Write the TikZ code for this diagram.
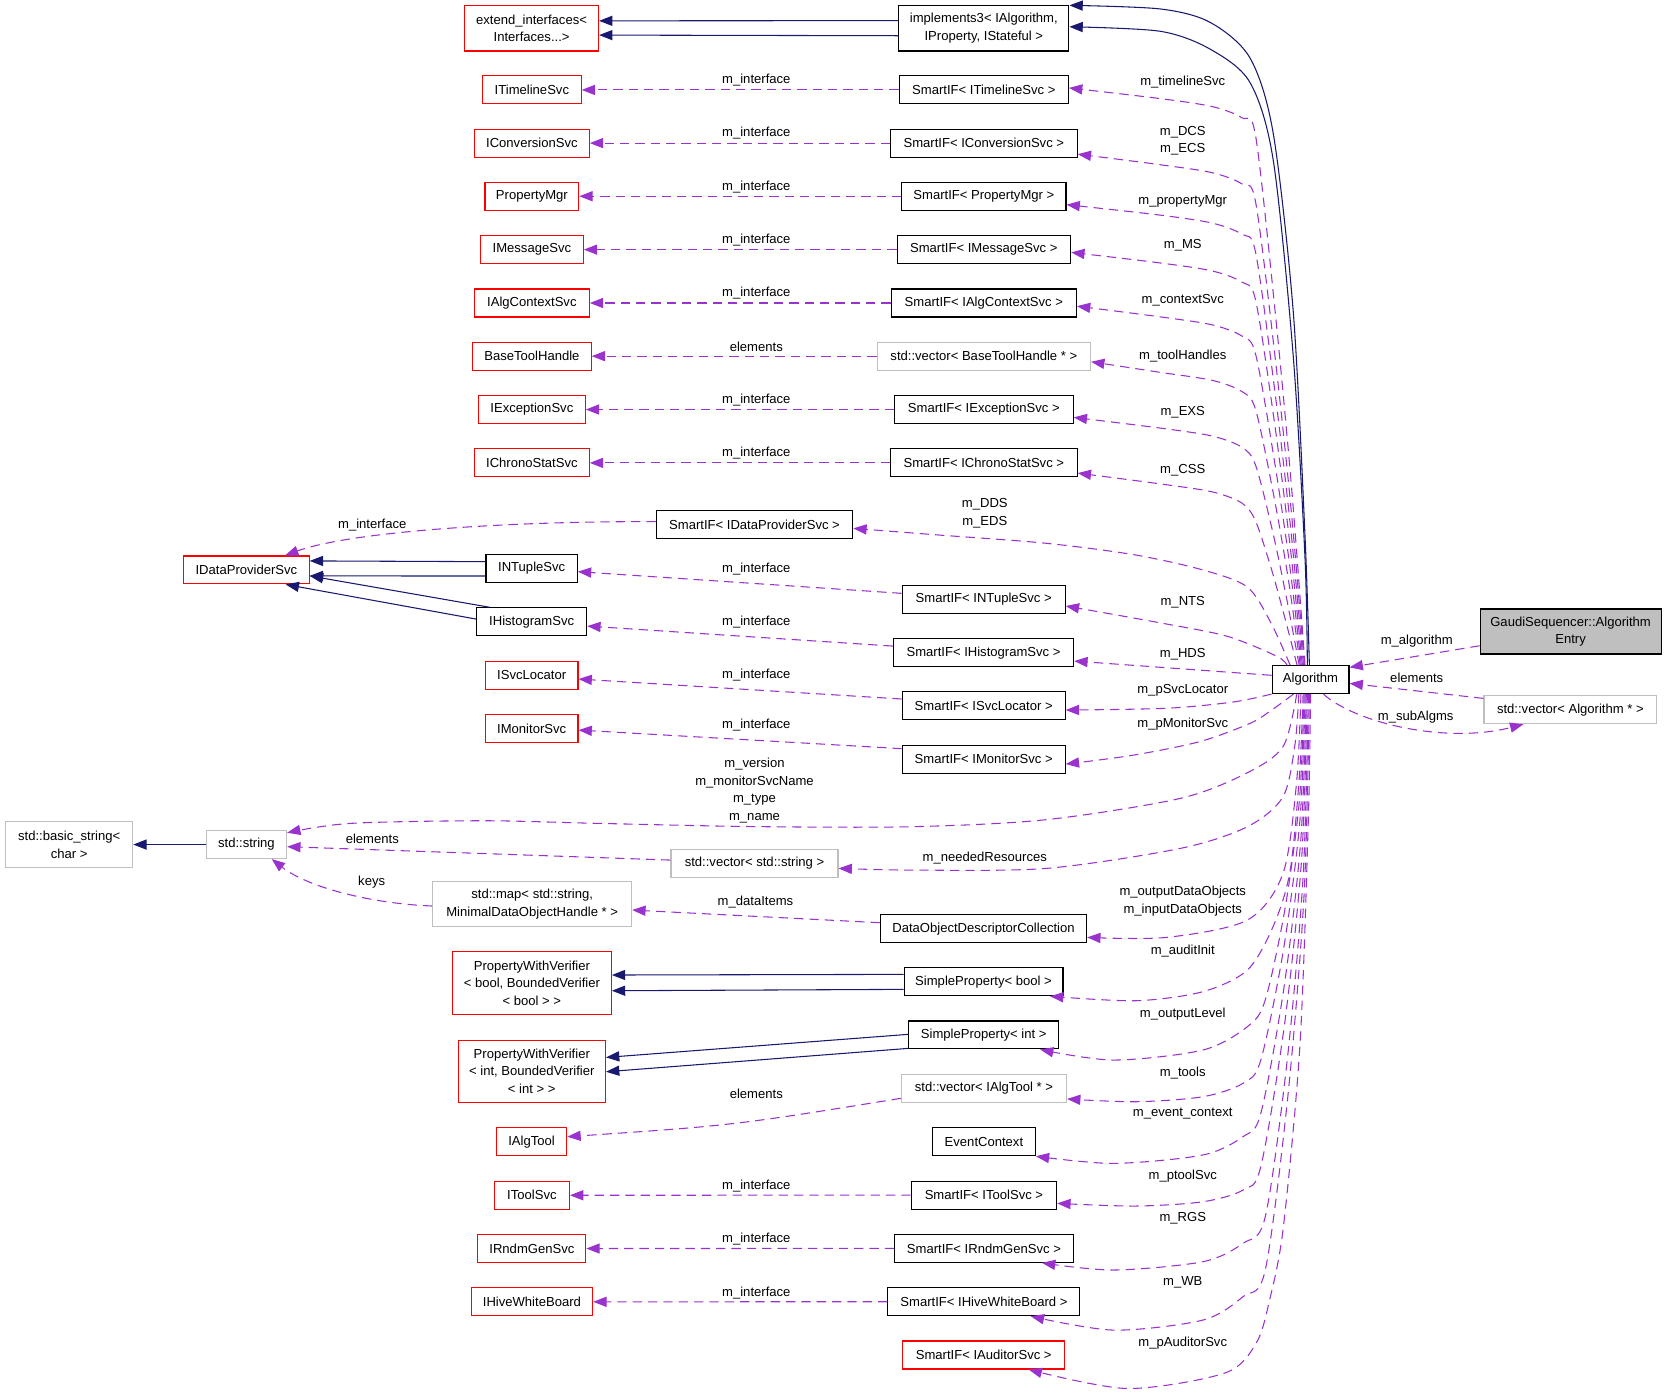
\documentclass[tikz,border=0pt]{standalone}
\usepackage{fontspec}
\setmainfont{Liberation Sans}
\usetikzlibrary{arrows.meta,calc}
\definecolor{inhblue}{HTML}{191970}
\definecolor{usepurple}{HTML}{9A32CD}
\definecolor{undocred}{HTML}{FF0000}
\definecolor{extgray}{HTML}{BFBFBF}

\begin{document}
\begin{tikzpicture}[x=0.7973pt,y=-0.7973pt,
    every node/.style={font=\fontsize{9.8}{13.2}\selectfont},
    clsbox/.style={draw=black,line width=0.8pt,inner sep=0pt,align=center,minimum height=20.97pt},
    redbox/.style={clsbox,draw=undocred},
    graybox/.style={clsbox,draw=extgray},
    focusbox/.style={clsbox,fill=extgray},
    boxw/.style={minimum width=#1*0.7973pt},
    boxh/.style={minimum height=#1*0.7973pt},
    inh/.style={inhblue,line width=0.8pt,-{Triangle[length=10pt,width=7.6pt]}},
    usage/.style={usepurple,line width=0.8pt,dash pattern=on 7pt off 4.5pt,-{Triangle[length=10pt,width=7.6pt]}},
    elabel/.style={inner sep=0pt,align=center}]
\useasboundingbox (0,0) rectangle (1568,1311);

% Klassen oben
\node[redbox,boxw=126,boxh=42.7] (ext) at (500,26.6) {extend\_interfaces<\\Interfaces...>};
\node[clsbox,boxw=160,boxh=42.7] (impl) at (925.4,26.6) {implements3< IAlgorithm,\\IProperty, IStateful >};

% linke Spalte
\node[redbox,boxw=92.8] (itl) at (500.3,84.6) {ITimelineSvc};
\node[redbox,boxw=108] (icv) at (500.3,134.6) {IConversionSvc};
\node[redbox,boxw=88.2] (pmg) at (500.3,184.6) {PropertyMgr};
\node[redbox,boxw=96.8] (ims) at (500.3,234.8) {IMessageSvc};
\node[redbox,boxw=108] (iac) at (500.3,285) {IAlgContextSvc};
\node[redbox,boxw=111.6] (bth) at (500.3,335) {BaseToolHandle};
\node[redbox,boxw=100.5] (iex) at (500.3,385.2) {IExceptionSvc};
\node[redbox,boxw=108] (ics) at (500.3,435.4) {IChronoStatSvc};

% mittlere Spalte
\node[clsbox,boxw=159.2] (stl) at (925.4,84.6) {SmartIF< ITimelineSvc >};
\node[clsbox,boxw=175.6] (scv) at (925.4,134.6) {SmartIF< IConversionSvc >};
\node[clsbox,boxw=154.5] (spm) at (925.4,184.6) {SmartIF< PropertyMgr >};
\node[clsbox,boxw=163.3] (sms) at (925.4,234.8) {SmartIF< IMessageSvc >};
\node[clsbox,boxw=174.2] (sac) at (925.4,285) {SmartIF< IAlgContextSvc >};
\node[graybox,boxw=200.8] (vbt) at (925.4,335) {std::vector< BaseToolHandle * >};
\node[clsbox,boxw=168] (sex) at (925.4,385.2) {SmartIF< IExceptionSvc >};
\node[clsbox,boxw=175.6] (scs) at (925.4,435.4) {SmartIF< IChronoStatSvc >};

% Datendienste
\node[clsbox,boxw=184.8] (sdp) at (709.7,493.5) {SmartIF< IDataProviderSvc >};
\node[redbox,boxw=118.1] (idp) at (231.8,536.1) {IDataProviderSvc};
\node[clsbox,boxw=85.9] (ints) at (500.1,534.5) {INTupleSvc};
\node[clsbox,boxw=103.5] (ihs) at (500.1,584.8) {IHistogramSvc};
\node[redbox,boxw=87.1] (isl) at (500.1,635.1) {ISvcLocator};
\node[redbox,boxw=87.1] (imo) at (500.1,685.3) {IMonitorSvc};
\node[clsbox,boxw=153.3] (snt) at (925.3,563.8) {SmartIF< INTupleSvc >};
\node[clsbox,boxw=169.7] (shs) at (925.1,614) {SmartIF< IHistogramSvc >};
\node[clsbox,boxw=153.3] (ssl) at (925.3,663.8) {SmartIF< ISvcLocator >};
\node[clsbox,boxw=153.3] (smo) at (925.3,714) {SmartIF< IMonitorSvc >};

% Algorithm und rechts
\node[clsbox,boxw=72.4] (alg) at (1232.7,639.2) {Algorithm};
\node[focusbox,boxw=170.2,boxh=42.3] (gsa) at (1477.3,594) {GaudiSequencer::Algorithm\\Entry};
\node[graybox,boxw=162.5] (val) at (1477.1,667.6) {std::vector< Algorithm * >};

% Strings
\node[graybox,boxw=119.5,boxh=42.9] (bst) at (65.1,794.4) {std::basic\_string<\\char >};
\node[graybox,boxw=75.6] (str) at (231.8,794.4) {std::string};
\node[graybox,boxw=157.1] (vst) at (709.7,812) {std::vector< std::string >};
\node[graybox,boxw=187.2,boxh=42.3] (map) at (500.6,850.5) {std::map< std::string,\\MinimalDataObjectHandle * >};
\node[clsbox,boxw=194] (doc) at (925.1,873.5) {DataObjectDescriptorCollection};

% unten
\node[redbox,boxw=149.5,boxh=58.9] (pwb) at (500.3,924.7) {PropertyWithVerifier\\< bool, BoundedVerifier\\< bool > >};
\node[redbox,boxw=138.6,boxh=58.6] (pwi) at (500.2,1007.6) {PropertyWithVerifier\\< int, BoundedVerifier\\< int > >};
\node[clsbox,boxw=149.5] (spb) at (925.1,923.4) {SimpleProperty< bool >};
\node[clsbox,boxw=140.8] (spi) at (925.3,973.5) {SimpleProperty< int >};
\node[graybox,boxw=155.4] (vat) at (925.5,1023.7) {std::vector< IAlgTool * >};
\node[redbox,boxw=66.3] (iat) at (500,1074) {IAlgTool};
\node[clsbox,boxw=96.6] (evc) at (925.5,1073.9) {EventContext};
\node[redbox,boxw=70.6] (its) at (500.3,1124.3) {IToolSvc};
\node[clsbox,boxw=136.9] (sts) at (925.5,1124.1) {SmartIF< IToolSvc >};
\node[redbox,boxw=101.5] (irg) at (500.3,1174.4) {IRndmGenSvc};
\node[clsbox,boxw=168] (srg) at (925.5,1174.2) {SmartIF< IRndmGenSvc >};
\node[redbox,boxw=114.4] (ihw) at (500.3,1224.5) {IHiveWhiteBoard};
\node[clsbox,boxw=180.6] (shw) at (925.5,1224.4) {SmartIF< IHiveWhiteBoard >};
\node[redbox,boxw=152.4] (sau) at (925.3,1274.5) {SmartIF< IAuditorSvc >};

% Vererbung
\draw[inh] ($(impl.west)+(0,-7.2)$) -- ($(ext.east)+(0,-7)$);
\draw[inh] ($(impl.west)+(0,7)$) -- ($(ext.east)+(0,6.4)$);
\draw[inh] ($(ints.west)+(0,-6.2)$) -- ($(idp.east)+(0,-8.5)$);
\draw[inh] ($(ints.west)+(0,7.3)$) -- ($(idp.east)+(0,5.6)$);
\draw[inh] ($(ihs.north west)+(12.5,0)$) -- ($(idp.east)+(0,5.6)$);
\draw[inh] ($(ihs.west)+(0,-2.5)$) -- ($(idp.south)+(36.9,0)$);
\draw[inh] (str) -- (bst);
\draw[inh] ($(spb.west)+(0,-6.9)$) -- ($(pwb.east)+(0,-7.6)$);
\draw[inh] ($(spb.west)+(0,7.2)$) -- ($(pwb.east)+(0,7.2)$);
\draw[inh] ($(spi.west)+(0,-0.6)$) -- ($(pwi.east)+(0,-13)$);
\draw[inh] ($(spi.west)+(0,12.6)$) -- ($(pwi.east)+(0,0.5)$);

\coordinate (iu) at ($(alg.north)+(-1.1,0)$);
\coordinate (il) at ($(alg.north)+(-3,0)$);
\coordinate (iut) at ($(impl.north east)+(0,0.3)$);
\coordinate (ilt) at ($(impl.east)+(0,-1.4)$);
\draw[inh] plot[smooth] coordinates {(iu) (1227.5,504) (1216.5,294) (1197.7,126) (1175.8,54.6) (1138.2,21) (1091.2,8.4) (iut)};
\draw[inh] plot[smooth] coordinates {(il) (1227.5,525) (1216.5,335.9) (1197.7,151.2) (1175.8,77.7) (1138.2,46.2) (1091.2,29.4) (ilt)};

% Ankerpunkte am Algorithm
\foreach \n/\dx in {a1/-5.2,a2/-5.8,a3/-6.7,a4/-7.7,a5/-8.7,a6/-9.7,a7/-10.7,a8/-12.7,a9/-19.2,a10/-22.2}
  \coordinate (\n) at ($(alg.north)+(\dx,0)$);
\foreach \n/\dx in {b1/-16,b2/-13,b3/-11,b4/-9,b5/-7,b6/-6,b7/-5,b8/-4,b9/-3,b10/-2,b11/-1,b12/0}
  \coordinate (\n) at ($(alg.south)+(\dx,0)$);
\foreach \n/\m/\dy in {t1/stl/-1.9,t2/scv/10.4,t3/spm/7.9,t4/sms/2.6,t5/sac/3,t6/vbt/5.3,t7/sex/7.4,t8/scs/9.6,t9/sdp/3.5,t10/snt/6.2,t11/shs/7.8,t12/ssl/4.1,t13/smo/4.7,t15/vst/4.8,t16/doc/8.2,t19/vat/10,t21/sts/7.8}
  \coordinate (\n) at ($(\m.east)+(0,\dy)$);
\foreach \n/\m/\dx in {t17/spb/62.6,t18/spi/53,t22/srg/54.6,t23/shw/44.1,t24/sau/42.2}
  \coordinate (\n) at ($(\m.south)+(\dx,0)$);
\coordinate (t14) at ($(str.east)+(0,-11.1)$);

% Verwendung: Algorithm -> Member
\draw[usage] plot[smooth] coordinates {(a1) (1215,460.3) (1199.5,294) (1181,127.7) (1168,110.7) (1140,100.2) (1091,92.7) (t1)};
\draw[usage] plot[smooth] coordinates {(a2) (1214.6,481) (1199.3,335.4) (1181,189.9) (1168,172.9) (1140,162.4) (1091,154.9) (t2)};
\draw[usage] plot[smooth] coordinates {(a3) (1214,496.9) (1199,367) (1181,237.3) (1168,220.3) (1140,209.8) (1091,202.3) (t3)};
\draw[usage] plot[smooth] coordinates {(a4) (1213.3,511.8) (1198.7,397) (1181,282.3) (1168,265.3) (1140,254.8) (1091,247.3) (t4)};
\draw[usage] plot[smooth] coordinates {(a5) (1212.7,528.7) (1198.3,430.8) (1181,333) (1168,316) (1140,305.5) (1091,298) (t5)};
\draw[usage] plot[smooth] coordinates {(a6) (1212,546) (1198,465.6) (1181,385.2) (1168,368.2) (1140,357.7) (1091,350.2) (t6)};
\draw[usage] plot[smooth] coordinates {(a7) (1210.3,563.5) (1197.2,500.6) (1181,437.6) (1168,420.6) (1140,410.1) (1091,402.6) (t7)};
\draw[usage] plot[smooth] coordinates {(a8) (1208.5,581) (1196,535.6) (1181,490.1) (1168,473.1) (1140,462.6) (1091,455.1) (t8)};
\draw[usage] plot[smooth] coordinates {(a9) (1195,585) (1173,552) (1131,536) (1068,522) (984,511) (880,503) (t9)};
\draw[usage] plot[smooth] coordinates {(a10) (1201,617.3) (1154,598.4) (1091,585.8) (t10)};
\draw[usage] ($(alg.west)+(0,-4)$) -- (t11);
\draw[usage] plot[smooth] coordinates {(alg.south west) (1160,660.3) (1097.4,666.2) (t12)};
\draw[usage] plot[smooth] coordinates {(b1) (1196,668) (1175.8,680.4) (1128.8,697.5) (1066,710.3) (t13)};
\draw[usage] plot[smooth] coordinates {(b2) (1207,702) (1173,727) (1110,751) (984,771) (858,777.6) (710,777.5) (564,774.5) (454.6,772) (329.2,774.5) (t14)};
\draw[usage] plot[smooth] coordinates {(b3) (1218,700.7) (1206.8,749.4) (1173.3,777.6) (1110.3,798) (984.3,816.8) (858.3,818.4) (t15)};
\draw[usage] plot[smooth] coordinates {(b4) (1219.5,736.8) (1206.8,821.5) (1173.3,865.4) (1097.4,881.7) (t16)};
\draw[usage] plot[smooth] coordinates {(b5) (1222.3,728.7) (1213.4,819.6) (1197.7,871) (1173.3,912.4) (1131.3,932.8) (1068.3,941.3) (t17)};
\draw[usage] plot[smooth] coordinates {(b6) (1222.2,753) (1208.8,854) (1190.1,940.6) (1173.3,965.7) (1131.3,987.7) (1047.3,997.1) (t18)};
\draw[usage] plot[smooth] coordinates {(b7) (1222.6,772.8) (1207.2,893.5) (1185.9,997.1) (1169.1,1019) (1131.3,1031.6) (1068.3,1036.3) (t19)};
\draw[usage] plot[smooth] coordinates {(b8) (1223.5,790.5) (1207.7,928.9) (1185.9,1047.3) (1169.1,1069.2) (1131.3,1086.4) (1047.3,1094.3) (evc.south east)};
\draw[usage] plot[smooth] coordinates {(b9) (1224.3,808) (1208.2,963.8) (1185.9,1097.4) (1169.1,1119.4) (1131.3,1130.4) (1068.3,1134.4) (t21)};
\draw[usage] plot[smooth] coordinates {(b10) (1225.7,824.4) (1210.8,996.8) (1190.1,1144.5) (1169.1,1169.5) (1131.3,1186.8) (1047.3,1194.6) (t22)};
\draw[usage] plot[smooth] coordinates {(b11) (1226.6,842) (1211.3,1031.8) (1190.1,1194.6) (1169.1,1219.7) (1131.3,1241.7) (1047.3,1251.1) (t23)};
\draw[usage] plot[smooth] coordinates {(b12) (1230.7,768) (1222.8,982) (1207.2,1153.6) (1194.2,1222.8) (1181.5,1263.5) (1152,1291.5) (1060,1306) (t24)};

% Verwendung: Member -> Schnittstellen
\draw[usage] (stl) -- (itl);
\draw[usage] (scv) -- (icv);
\draw[usage] (spm) -- (pmg);
\draw[usage] (sms) -- (ims);
\draw[usage] (sac) -- (iac);
\draw[usage] (vbt) -- (bth);
\draw[usage] (sex) -- (iex);
\draw[usage] (scs) -- (ics);
\draw[usage] ($(sdp.west)+(0,-2.8)$) .. controls (480,490) and (330,500) .. ($(idp.north)+(36.3,0)$);
\draw[usage] ($(snt.west)+(0,-5.7)$) -- ($(ints.east)+(0,3.2)$);
\draw[usage] ($(shs.west)+(0,-6.3)$) -- ($(ihs.east)+(0,4.1)$);
\draw[usage] ($(ssl.west)+(0,-6.3)$) -- ($(isl.east)+(0,3.6)$);
\draw[usage] ($(smo.west)+(0,-9.8)$) -- ($(imo.east)+(0,1.4)$);
\draw[usage] ($(vst.west)+(0,-3)$) -- ($(str.east)+(0,2)$);
\draw[usage] ($(map.west)+(0,1.7)$) .. controls (350,850) and (290,835) .. ($(str.south)+(23.8,0)$);
\draw[usage] ($(doc.west)+(0,-5.6)$) -- ($(map.east)+(0,5.5)$);
\draw[usage] ($(vat.west)+(0,9.4)$) .. controls (690,1058.5) .. ($(iat.east)+(0,-4.8)$);
\draw[usage] (sts) -- (its);
\draw[usage] (srg) -- (irg);
\draw[usage] (shw) -- (ihw);

% rechts
\draw[usage] ($(gsa.west)+(0,13.4)$) -- ($(alg.east)+(0,-11.5)$);
\draw[usage] ($(val.west)+(0,-10.7)$) -- ($(alg.east)+(0,3.6)$);
\draw[usage] ($(alg.south)+(12.1,0)$) .. controls (1275,680) and (1360,700) .. ($(val.south)+(-44.2,0)$);

% Beschriftungen
\foreach \y [count=\i] in {75.6,125.6,175.6,225.8,276,376.2,426.4,534.9,584.8,634.6,681.6,1115.3,1165.2,1215.9}
  \node[elabel] (mi\i) at (711.4,\y) {m\_interface};
\node[elabel] (lel1) at (711.4,326) {elements};
\node[elabel] (lidp) at (350.2,493.8) {m\_interface};
\node[elabel] (lel2) at (350.2,789.2) {elements};
\node[elabel] (lkey) at (349.6,829.3) {keys};
\node[elabel] (ldit) at (710.6,848.2) {m\_dataItems};
\node[elabel] (lel3) at (711.4,1028.4) {elements};
\node[elabel] (lnam) at (709.7,743.6) {m\_version\\m\_monitorSvcName\\m\_type\\m\_name};
\node[elabel] (ldds) at (926.3,482.5) {m\_DDS\\m\_EDS};
\node[elabel] (lnr) at (926.3,807.4) {m\_neededResources};
\node[elabel] (ldcs) at (1112.5,132.3) {m\_DCS\\m\_ECS};
\node[elabel] (ldob) at (1112.5,847.4) {m\_outputDataObjects\\m\_inputDataObjects};
\foreach \y/\t [count=\i] in {76.8/m\_timelineSvc,189/m\_propertyMgr,231/m\_MS,282.6/m\_contextSvc,335.1/m\_toolHandles,387.6/m\_EXS,442.2/m\_CSS,566.9/m\_NTS,615.6/m\_HDS,649.5/m\_pSvcLocator,681.2/m\_pMonitorSvc,894.1/m\_auditInit,953.6/m\_outputLevel,1009.7/m\_tools,1047.4/m\_event\_context,1106.6/m\_ptoolSvc,1146/m\_RGS,1206.4/m\_WB,1263/m\_pAuditorSvc}
  \node[elabel] (mr\i) at (1112.5,\y) {\t};
\node[elabel] (lalg) at (1332.6,602.6) {m\_algorithm};
\node[elabel] (lel4) at (1332.6,637.4) {elements};
\node[elabel] (lsub) at (1331.6,674.1) {m\_subAlgms};
\end{tikzpicture}
\end{document}
